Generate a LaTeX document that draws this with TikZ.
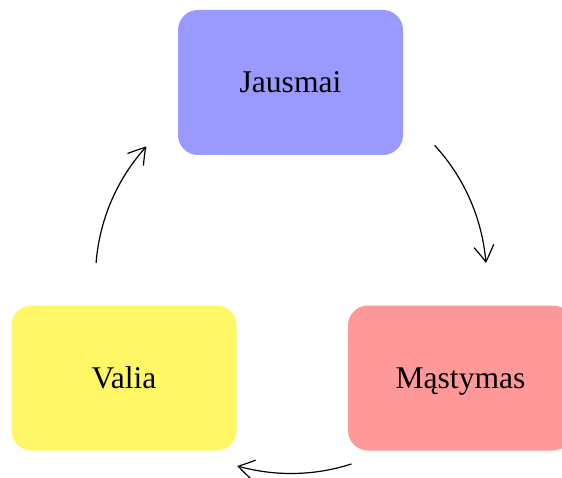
\documentclass[tikz,border=0pt]{standalone}
\usepackage{fontspec}
\setmainfont{Liberation Serif}
\usetikzlibrary{arrows.meta,bending}
\begin{document}
\begin{tikzpicture}[x=0.5pt,y=0.5pt,
  box/.style={rounded corners=10pt,minimum width=112.5pt,minimum height=72.5pt,inner sep=0pt,text height=10pt,text depth=0pt,font=\fontsize{15.8}{19}\selectfont},
  flow/.style={line width=0.6pt,-{Straight Barb[length=8pt,width=10pt,bend]}}]
\useasboundingbox (0,0) rectangle (562,477);
\node[box,fill=blue!40] (j) at (290.5,394.5) {Jausmai};
\node[box,fill=red!40] (m) at (460.5,99) {Mąstymas};
\node[box,fill=yellow!60] (v) at (124,99) {Valia};
\coordinate (c) at (291,199);
\draw[flow] (c) ++(42.7:97.75pt) arc[start angle=42.7,end angle=4.4,radius=97.75pt];
\draw[flow] (c) ++(-72:97.75pt) arc[start angle=-72,end angle=-106,radius=97.75pt];
\draw[flow] (c) ++(175.6:97.75pt) arc[start angle=175.6,end angle=137.7,radius=97.75pt];
\end{tikzpicture}
\end{document}
